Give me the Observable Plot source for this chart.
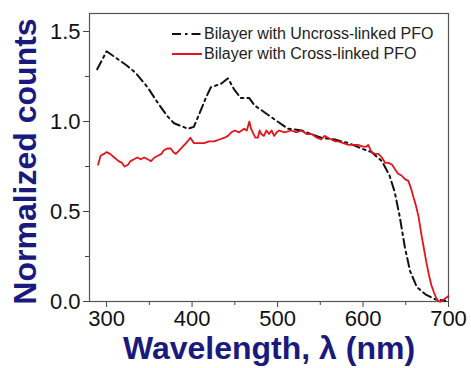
<!DOCTYPE html>
<html><head><meta charset="utf-8">
<script src="https://cdn.jsdelivr.net/npm/d3@7"></script>
<script src="https://cdn.jsdelivr.net/npm/@observablehq/plot@0.6"></script>
<style>
body{margin:0;background:#fff;}
#wrap{position:relative;width:471px;height:368px;overflow:hidden;}
.leg{position:absolute;left:172px;font:16px "Liberation Sans",Arial,sans-serif;line-height:18px;color:#222;white-space:nowrap;display:flex;align-items:center;}
.leg svg{margin-right:2px;display:block;}
</style></head><body><div id="wrap"></div>
<script>
// Uncross-linked PFO bilayer (black dash-dot)
const uncrossWl = [289,300,309,324,334,348,359,371,379,395,402,410,416,422,434,442,449,457,467,473,485,500,512,528,551,567,583,598,610,622,631,637,643,649,655,663,673,684,696];
const uncrossVal = [1.29,1.39,1.36,1.31,1.27,1.19,1.11,1.03,0.99,0.96,0.97,1.06,1.13,1.19,1.21,1.24,1.18,1.13,1.13,1.09,1.05,1.00,0.96,0.95,0.91,0.90,0.88,0.85,0.83,0.78,0.70,0.61,0.47,0.30,0.17,0.08,0.04,0.013,0.004];
// Cross-linked PFO bilayer (red solid)
const crossWl = [290,293,297,300,304,309,314,318,321,325,328,332,336,340,344,348,352,356,360,364,367,371,375,378,381,385,389,393,398,402,406,410,414,420,426,432,438,442,446,450,455,458,461,464,467,469,471,474,477,479,481,484,487,490,493,496,499,502,508,516,522,528,534,540,546,551,555,559,563,567,571,577,583,589,594,600,604,606,610,614,618,622,626,630,634,638,641,645,649,653,656,659,662,665,668,671,674,677,680,683,686,689,691,694,697,700];
const crossVal = [0.76,0.81,0.82,0.83,0.82,0.80,0.78,0.77,0.75,0.76,0.78,0.79,0.80,0.79,0.80,0.79,0.78,0.80,0.81,0.82,0.84,0.85,0.85,0.83,0.82,0.84,0.86,0.88,0.91,0.88,0.88,0.88,0.88,0.89,0.89,0.90,0.91,0.92,0.94,0.95,0.94,0.95,0.96,0.95,1.00,0.96,0.94,0.91,0.91,0.95,0.93,0.92,0.95,0.93,0.95,0.92,0.94,0.95,0.94,0.95,0.94,0.95,0.93,0.93,0.91,0.90,0.92,0.91,0.90,0.89,0.89,0.88,0.87,0.87,0.87,0.86,0.86,0.87,0.83,0.82,0.82,0.80,0.77,0.77,0.76,0.73,0.71,0.70,0.68,0.67,0.63,0.58,0.53,0.47,0.38,0.30,0.22,0.15,0.09,0.05,0.015,0.00,0.00,0.01,0.02,0.03];
const xTicks = [300,400,500,600,700];
const xMinor = [350,450,550,650];
const yTicks = [0,0.5,1.0,1.5];
const yMinor = [0.25,0.75,1.25];
const seriesNames = ["Bilayer with Uncross-linked PFO","Bilayer with Cross-linked PFO"];
const xTitle = "Wavelength, λ (nm)";
const yTitle = "Normalized counts";

const uncross = uncrossWl.map((w,i)=>({x:w,y:uncrossVal[i]}));
const cross = crossWl.map((w,i)=>({x:w,y:crossVal[i]}));
const font = '"Liberation Sans", Arial, sans-serif';
const navy = "#1a1a7e";

const chart = Plot.plot({
  width:471, height:368,
  marginLeft:89, marginRight:23, marginTop:13, marginBottom:67,
  style:{fontFamily:font, background:"#fff", color:"#111", overflow:"visible"},
  x:{domain:[280,700]},
  y:{domain:[0,1.6]},
  marks:[
    Plot.axisX({ticks:xTicks, tickSize:6, tickPadding:3, fontSize:22, label:null, tickFormat:d=>String(d), stroke:"#444"}),
    Plot.axisX({ticks:xMinor, tickSize:4, label:null, tickFormat:()=>"", stroke:"#444"}),
    Plot.axisY({ticks:yTicks, tickSize:6, tickPadding:3, fontSize:22, label:null, tickFormat:d3.format(".1f"), stroke:"#444"}),
    Plot.axisY({ticks:yMinor, tickSize:4, label:null, tickFormat:()=>"", stroke:"#444"}),
    Plot.frame({stroke:"#555", strokeWidth:1.2}),
    Plot.line(uncross, {x:"x", y:"y", stroke:"#111", strokeWidth:2, strokeDasharray:"9,4,2.5,4"}),
    Plot.line(cross, {x:"x", y:"y", stroke:"#e3141c", strokeWidth:1.8}),
    Plot.text([xTitle], {text:d=>d, frameAnchor:"bottom", textAnchor:"middle", dy:57, fontSize:32, fontWeight:"bold", fill:navy}),
    Plot.text([yTitle], {text:d=>d, frameAnchor:"left", textAnchor:"middle", dx:-64, dy:4, rotate:-90, fontSize:32, fontWeight:"bold", fill:navy})
  ]
});
const wrap = document.getElementById("wrap");
wrap.appendChild(chart);
const legs = [
  {name:seriesNames[0], color:"#111", dash:"9,4,2.5,4", top:25},
  {name:seriesNames[1], color:"#e3141c", dash:null, top:45}
];
for (const l of legs) {
  const div = document.createElement("div");
  div.className = "leg";
  div.style.top = l.top + "px";
  const ns = "http://www.w3.org/2000/svg";
  const s = document.createElementNS(ns,"svg");
  s.setAttribute("width","30"); s.setAttribute("height","18");
  const ln = document.createElementNS(ns,"line");
  ln.setAttribute("x1","0"); ln.setAttribute("x2","30"); ln.setAttribute("y1","9"); ln.setAttribute("y2","9");
  ln.setAttribute("stroke", l.color); ln.setAttribute("stroke-width","2");
  if (l.dash) ln.setAttribute("stroke-dasharray", l.dash);
  s.appendChild(ln);
  div.appendChild(s);
  const sp = document.createElement("span");
  sp.textContent = l.name;
  div.appendChild(sp);
  wrap.appendChild(div);
}
</script></body></html>
